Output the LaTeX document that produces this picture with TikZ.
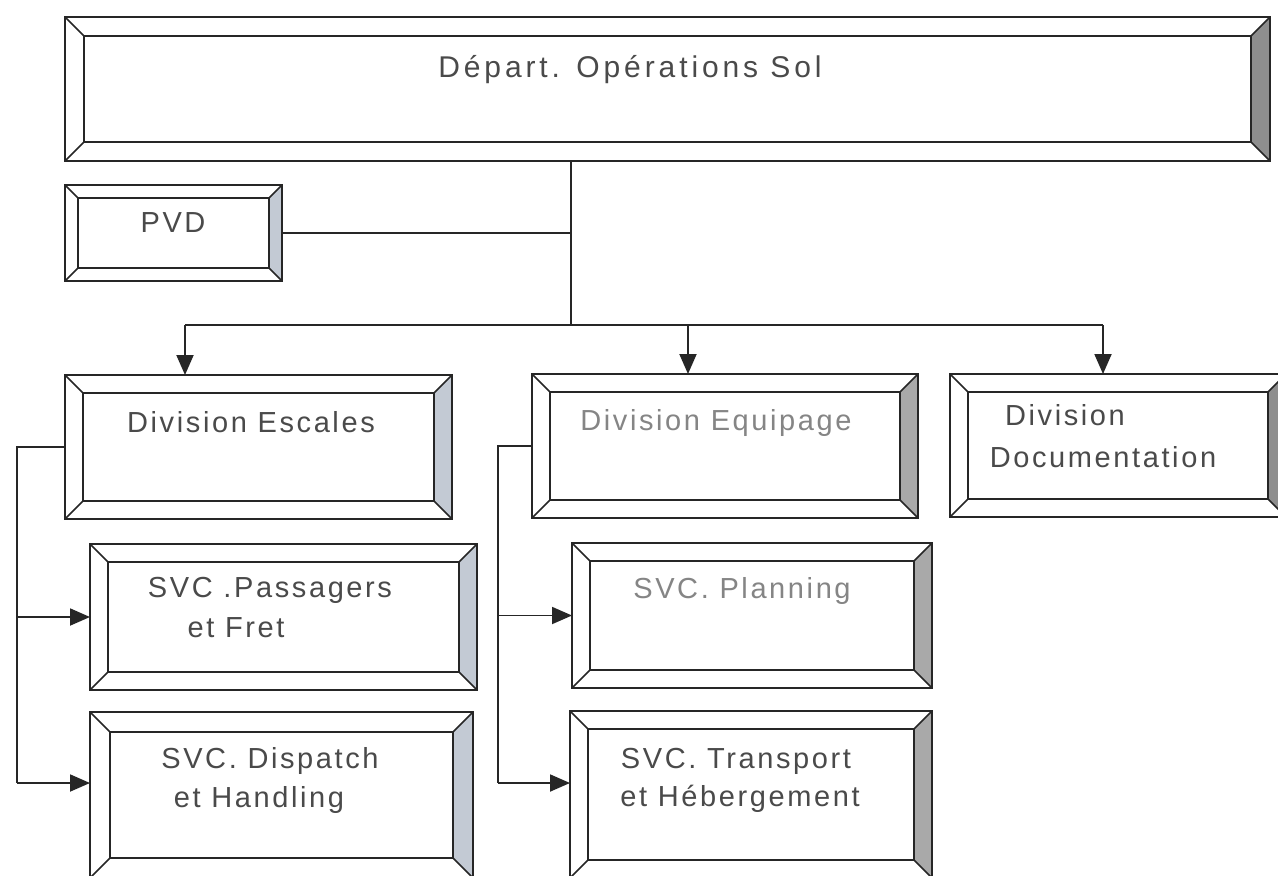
\documentclass[tikz,border=0pt]{standalone}
\usepackage{fontspec}
\setmainfont{Liberation Sans}[LetterSpace=9]
\usetikzlibrary{calc,fit,arrows.meta}

\definecolor{shadedark}{HTML}{8E8E8E}
\definecolor{shadeblue}{HTML}{C3CAD4}
\definecolor{shademid}{HTML}{A9A9A9}
\definecolor{ink}{HTML}{4A4A4A}
\definecolor{inklight}{HTML}{858585}

\tikzset{
  frame/.style={draw=none, inner sep=0pt, outer sep=0pt},
  bevel/.style={draw=black!85, line width=1.7pt, line join=miter},
  link/.style={draw=black!85, line width=1.9pt},
  arr/.style={link, -{Triangle[length=20pt,width=17pt]}},
  lbl/.style={anchor=base, inner sep=0pt, font=\fontsize{29}{33}\selectfont, text=ink},
  lbllight/.style={lbl, text=inklight},
}

% bevelled box: name, x1, y1, x2, y2, bevel width, shade of the right bevel
\newcommand\bevbox[7]{%
  \node[frame, fit={(#2,#3) (#4,#5)}] (#1) {};
  \fill[#7] (#1.north east) -- (#1.south east)
    -- ($(#1.south east)+(-#6,-#6)$) -- ($(#1.north east)+(-#6,#6)$) -- cycle;
  \draw[bevel] (#1.north west) rectangle (#1.south east);
  \draw[bevel] ($(#1.north west)+(#6,#6)$) rectangle ($(#1.south east)+(-#6,-#6)$);
  \draw[bevel] (#1.north west) -- ++(#6,#6);
  \draw[bevel] (#1.north east) -- ++(-#6,#6);
  \draw[bevel] (#1.south west) -- ++(#6,-#6);
  \draw[bevel] (#1.south east) -- ++(-#6,-#6);
}

\begin{document}
\begin{tikzpicture}[x=1pt, y=-1pt]
  \useasboundingbox (0,0) rectangle (1278,876);
  \fill[white] (0,0) rectangle (1278,876);
  \clip (0,0) rectangle (1278,876);

  % boxes
  \bevbox{dept}{65}{17}{1270}{161}{19}{shadedark}
  \bevbox{pvd}{65}{185}{282}{281}{13}{shadeblue}
  \bevbox{esc}{65}{375}{452}{519}{18}{shadeblue}
  \bevbox{pax}{90}{544}{477}{690}{18}{shadeblue}
  \bevbox{disp}{90}{712}{473}{878}{20}{shadeblue}
  \bevbox{equ}{532}{374}{918}{518}{18}{shademid}
  \bevbox{plan}{572}{543}{932}{688}{18}{shademid}
  \bevbox{trans}{570}{711}{932}{878}{18}{shademid}
  \bevbox{doc}{950}{374}{1286}{517}{18}{shadedark}

  % labels
  \node[lbl, font=\fontsize{30}{34}\selectfont\addfontfeature{LetterSpace=13}] (tDept) at (630,77) {Départ. Opérations Sol};
  \node[lbl] (tPvd) at (173,232) {PVD};
  \node[lbl] (tEsc) at (251,432) {Division Escales};
  \node[lbl] (tPaxA) at (270,597) {SVC .Passagers};
  \node[lbl] (tPaxB) at (236,637) {et Fret};
  \node[lbl] (tDispA) at (270,768) {SVC. Dispatch};
  \node[lbl] (tDispB) at (259,807) {et Handling};
  \node[lbllight] (tEqu) at (716,430) {Division Equipage};
  \node[lbllight] (tPlan) at (742,598) {SVC. Planning};
  \node[lbl] (tTransA) at (736,768) {SVC. Transport};
  \node[lbl] (tTransB) at (740,806) {et Hébergement};
  \node[lbl] (tDocA) at (1065,425) {Division};
  \node[lbl] (tDocB) at (1103,467) {Documentation};

  % junction points
  \coordinate (hub) at (571,325);
  \coordinate (busL) at (185,325);
  \coordinate (busM) at (688,325);
  \coordinate (busR) at (1103,325);
  \coordinate (escL) at (17,447);
  \coordinate (equL) at (498,446);
  \coordinate (dispIn) at ($(disp.north west)+(0,71)$);
  \coordinate (transIn) at ($(trans.north west)+(0,72)$);

  % department to divisions
  \draw[link] (dept.south -| hub) -- (hub);
  \draw[link] (pvd.east) -- (pvd.east -| hub);
  \draw[link] (busL) -- (busR);
  \draw[arr] (busL) -- (esc.north -| busL);
  \draw[arr] (busM) -- (equ.north -| busM);
  \draw[arr] (busR) -- (doc.north -| busR);

  % Division Escales to its services
  \draw[link] (esc.west) -- (escL) -- (escL |- dispIn);
  \draw[arr] (escL |- pax.west) -- (pax.west);
  \draw[arr] (escL |- dispIn) -- (dispIn);

  % Division Equipage to its services
  \draw[link] (equ.west) -- (equL) -- (equL |- transIn);
  \draw[arr] (equL |- plan.west) -- (plan.west);
  \draw[arr] (equL |- transIn) -- (transIn);
\end{tikzpicture}
\end{document}
